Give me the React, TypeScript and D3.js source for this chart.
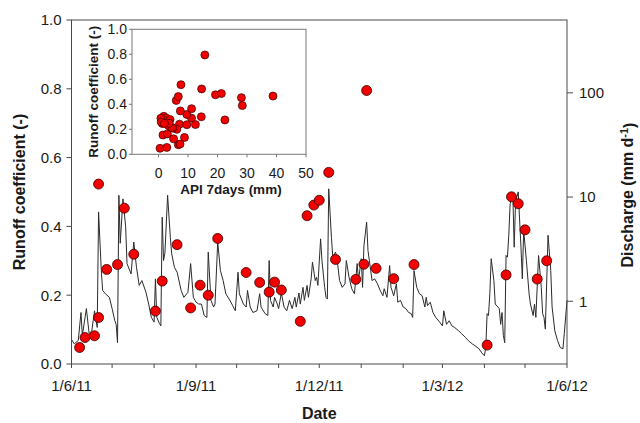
import React from "react";
import * as d3 from "d3";

// Daily discharge record (mm d-1), keyed by day since 1 June 2011
const flowDay = [
  0, 2, 5, 7, 8, 11, 13, 15, 17, 19, 20, 22, 23, 25, 28, 30, 32, 33, 34, 35,
  36, 38, 40, 41, 44, 46, 48, 50, 52, 55, 57, 59, 61, 62, 63, 65, 66, 67, 68, 69,
  71, 73, 74, 76, 78, 81, 83, 86, 88, 90, 92, 94, 96, 98, 100, 101, 103, 105, 106, 108,
  110, 112, 114, 117, 119, 121, 123, 124, 127, 129, 130, 132, 134, 137, 139, 140, 143, 145, 146, 147,
  149, 150, 152, 153, 155, 157, 159, 161, 163, 165, 166, 168, 169, 171, 172, 174, 175, 177, 178, 180,
  181, 182, 184, 185, 186, 187, 188, 189, 190, 192, 193, 195, 196, 198, 200, 202, 203, 205, 207, 209,
  211, 212, 214, 215, 216, 218, 219, 221, 222, 224, 226, 228, 230, 231, 233, 235, 236, 238, 240, 241,
  243, 245, 247, 249, 251, 252, 253, 255, 257, 259, 261, 262, 263, 265, 267, 269, 272, 274, 275, 277,
  279, 281, 283, 286, 288, 291, 293, 296, 298, 301, 303, 305, 306, 307, 308, 309, 310, 312, 313, 315,
  316, 317, 318, 319, 320, 321, 322, 323, 324, 326, 327, 328, 330, 331, 332, 333, 334, 336, 338, 339,
  341, 342, 343, 345, 347, 348, 349, 350, 352, 354, 355, 357, 359, 361, 363, 364, 366,
];
const flowQ = [
  0.43, 0.39, 0.42, 0.78, 0.47, 0.85, 0.49, 0.52, 0.81, 0.56, 7.2, 1.97, 1.27, 1.18, 1.09, 0.85, 0.65, 0.6, 0.4, 10.4,
  3.6, 9.6, 5.2, 2.3, 1.83, 3.7, 2.12, 1.42, 1.58, 1.22, 0.94, 0.7, 0.63, 1.64, 0.7, 0.61, 0.58, 6.4, 2.46, 2.9,
  10.4, 4.1, 2.86, 2.12, 1.9, 1.27, 1.09, 1.22, 2.3, 1.09, 0.98, 0.94, 0.94, 0.73, 0.7, 2.96, 1.02, 0.88, 0.94, 3.7,
  1.97, 1.58, 1.18, 1.02, 0.91, 0.81, 1.9, 1.18, 0.94, 0.88, 1.27, 0.88, 0.78, 0.81, 1.18, 0.88, 0.76, 0.73, 2.46, 1.02,
  0.88, 1.09, 0.94, 0.85, 1.2, 0.88, 0.81, 1.02, 0.85, 1.09, 0.88, 1.2, 0.94, 1.36, 1.02, 1.42, 1.09, 1.64, 2.37, 1.58,
  1.7, 1.42, 3.97, 2.46, 1.83, 1.36, 1.09, 1.05, 12.0, 4.1, 2.65, 2.96, 2.65, 1.58, 1.36, 1.47, 2.46, 1.7, 1.32, 1.18,
  2.3, 1.58, 2.56, 1.36, 3.4, 5.75, 3.07, 1.97, 1.58, 1.64, 1.47, 1.27, 1.13, 1.32, 1.09, 2.2, 1.36, 1.13, 1.47, 0.98,
  1.02, 0.88, 0.85, 0.78, 0.76, 0.7, 1.97, 1.36, 1.18, 1.13, 0.88, 1.09, 0.91, 0.98, 0.78, 0.7, 0.63, 0.58, 0.81, 0.6,
  0.65, 0.58, 0.56, 0.52, 0.49, 0.45, 0.42, 0.39, 0.375, 0.35, 0.32, 0.3, 0.36, 0.76, 0.73, 1.18, 2.56, 1.58, 0.94, 0.88,
  0.85, 0.6, 0.78, 0.47, 0.4, 2.75, 2.65, 4.3, 8.6, 10.4, 3.3, 9.0, 11.2, 6.0, 3.3, 1.64, 4.8, 2.46, 1.18, 0.94,
  0.73, 0.94, 0.7, 2.75, 1.36, 0.76, 0.7, 0.54, 4.3, 1.97, 0.88, 0.52, 0.42, 0.36, 0.35, 0.49, 1.02,
];

// Rainfall events: day since 1 June 2011, runoff coefficient, 7-day antecedent precipitation (mm)
const eventDay = [
  6, 10, 17, 20, 20, 26, 34, 39, 46, 62, 67, 78, 88, 95, 101, 108, 129, 139, 146, 150,
  155, 169, 174, 179, 183, 190, 195, 210, 216, 218, 225, 238, 253, 307, 321, 325, 330, 335, 344, 351,
];
const runoffCoef = [
  0.048, 0.077, 0.082, 0.135, 0.523, 0.275, 0.289, 0.453, 0.319, 0.154, 0.241, 0.347, 0.163, 0.229, 0.2, 0.365, 0.266, 0.237, 0.209, 0.238,
  0.215, 0.124, 0.431, 0.462, 0.476, 0.557, 0.304, 0.246, 0.29, 0.795, 0.278, 0.248, 0.289, 0.055, 0.259, 0.486, 0.466, 0.39, 0.247, 0.3,
];
const api7 = [
  0.5, 6.7, 7.3, 8.8, 14.6, 22.5, 11.2, 28.1, 9.6, 1.5, 7.1, 7.4, 3.0, 3.4, 6.2, 11.2, 2.5, 9.6, 4.8, 12.5,
  4.5, 5.1, 6.0, 6.7, 19.3, 7.6, 1.8, 1.3, 2.6, 15.7, 3.9, 3.6, 0.8, 2.8, 0.9, 21.3, 38.8, 28.4, 2.0, 14.5,
];

const rcTicks = [0, 0.2, 0.4, 0.6, 0.8, 1.0];
const qTicks = [1, 10, 100];
const insetXTicks = [0, 10, 20, 30, 40, 50];
const insetYTicks = [0, 0.2, 0.4, 0.6, 0.8, 1.0];

const START = new Date(2011, 5, 1);
const END = new Date(2012, 5, 1);

const FONT = "Arial, 'Liberation Sans', sans-serif";
const AXIS = "#4a4a4a";
const TEXT = "#1a1a1a";

const fmtDate = (d: Date) =>
  `${d.getDate()}/${d.getMonth() + 1}/${String(d.getFullYear()).slice(2)}`;

export default function App() {
  const x = d3.scaleTime().domain([START, END]).range([71.5, 567]);
  const yRc = d3.scaleLinear().domain([0, 1]).range([364, 20]);
  const yQ = d3.scaleLog().domain([0.25, 500]).range([364, 20]);

  const ix = d3.scaleLinear().domain([-9, 50]).range([132, 306]);
  const iy = d3.scaleLinear().domain([0, 1]).range([154.3, 29.3]);

  const flow = flowDay.map((d, i) => ({ date: d3.timeDay.offset(START, d), q: flowQ[i] }));
  const events = eventDay.map((d, i) => ({
    date: d3.timeDay.offset(START, d),
    rc: runoffCoef[i],
    api: api7[i],
  }));

  const line = d3
    .line<{ date: Date; q: number }>()
    .x((d) => x(d.date))
    .y((d) => yQ(d.q));

  const months = d3.timeMonth.range(START, d3.timeDay.offset(END, 1));
  const [x0, x1] = x.range();
  const [yb, yt] = yRc.range();

  return (
    <svg
      width={640}
      height={423}
      style={{ position: "absolute", left: 0, top: 0, background: "#fff" }}
      fontFamily={FONT}
    >
      <rect width={640} height={423} fill="#fff" />

      {/* discharge hydrograph */}
      <path d={line(flow) ?? ""} fill="none" stroke="#2b2b2b" strokeWidth={1} strokeLinejoin="round" />

      {/* runoff coefficients of events */}
      {events.map((e, i) => (
        <circle
          key={i}
          cx={x(e.date)}
          cy={yRc(e.rc)}
          r={5}
          fill="#f20000"
          stroke="#3a0000"
          strokeWidth={0.8}
        />
      ))}

      {/* frame */}
      <rect x={x0} y={yt} width={x1 - x0} height={yb - yt} fill="none" stroke={AXIS} strokeWidth={1} />

      {/* left axis */}
      {rcTicks.map((t) => (
        <g key={t}>
          <line x1={x0 - 5} x2={x0} y1={yRc(t)} y2={yRc(t)} stroke={AXIS} />
          <text x={x0 - 10} y={yRc(t)} dy="0.36em" textAnchor="end" fontSize={15} fill={TEXT}>
            {t.toFixed(1)}
          </text>
        </g>
      ))}
      <text
        transform={`translate(19,${(yb + yt) / 2}) rotate(-90)`}
        textAnchor="middle"
        dy="0.36em"
        fontSize={16}
        fontWeight="bold"
        fill={TEXT}
      >
        Runoff coefficient (-)
      </text>

      {/* right axis */}
      {qTicks.map((t) => (
        <g key={t}>
          <line x1={x1} x2={x1 + 6} y1={yQ(t)} y2={yQ(t)} stroke={AXIS} />
          <text x={x1 + 12} y={yQ(t)} dy="0.36em" textAnchor="start" fontSize={15} fill={TEXT}>
            {t}
          </text>
        </g>
      ))}
      <text
        transform={`translate(627,${(yb + yt) / 2 + 3}) rotate(-90)`}
        textAnchor="middle"
        dy="0.36em"
        fontSize={16}
        fontWeight="bold"
        fill={TEXT}
      >
        Discharge (mm d
        <tspan dy="-0.45em" fontSize={11}>-1</tspan>
        <tspan dy="0.45em">)</tspan>
      </text>

      {/* bottom axis */}
      {months.map((m, i) => (
        <g key={i}>
          <line x1={x(m)} x2={x(m)} y1={yb} y2={yb + 4} stroke={AXIS} />
          {i % 3 === 0 && (
            <text x={x(m)} y={386} dy="0.36em" textAnchor="middle" fontSize={15} fill={TEXT}>
              {fmtDate(m)}
            </text>
          )}
        </g>
      ))}
      <text x={(x0 + x1) / 2} y={413} dy="0.36em" textAnchor="middle" fontSize={16} fontWeight="bold" fill={TEXT}>
        Date
      </text>

      {/* inset: runoff coefficient vs antecedent precipitation */}
      <g>
        <rect
          x={ix.range()[0]}
          y={iy.range()[1]}
          width={ix.range()[1] - ix.range()[0]}
          height={iy.range()[0] - iy.range()[1]}
          fill="#fff"
          stroke="#777"
          strokeWidth={1}
        />
        {events.map((e, i) => (
          <circle
            key={i}
            cx={ix(e.api)}
            cy={iy(e.rc)}
            r={4}
            fill="#f20000"
            stroke="#3a0000"
            strokeWidth={0.7}
          />
        ))}
        {insetYTicks.map((t) => (
          <g key={t}>
            <line x1={ix.range()[0] - 3} x2={ix.range()[0]} y1={iy(t)} y2={iy(t)} stroke="#777" />
            <text x={ix.range()[0] - 5} y={iy(t)} dy="0.36em" textAnchor="end" fontSize={14} fill={TEXT}>
              {t.toFixed(1)}
            </text>
          </g>
        ))}
        {insetXTicks.map((t) => (
          <g key={t}>
            <line x1={ix(t)} x2={ix(t)} y1={iy.range()[0]} y2={iy.range()[0] + 3} stroke="#777" />
            <text x={ix(t)} y={172.5} dy="0.36em" textAnchor="middle" fontSize={14} fill={TEXT}>
              {t}
            </text>
          </g>
        ))}
        <text
          transform={`translate(93,${(iy.range()[0] + iy.range()[1]) / 2}) rotate(-90)`}
          textAnchor="middle"
          dy="0.36em"
          fontSize={13.5}
          fontWeight="bold"
          fill={TEXT}
        >
          Runoff coefficient (-)
        </text>
        <text x={231} y={189} dy="0.36em" textAnchor="middle" fontSize={13.5} fontWeight="bold" fill={TEXT}>
          API 7days (mm)
        </text>
      </g>
    </svg>
  );
}
